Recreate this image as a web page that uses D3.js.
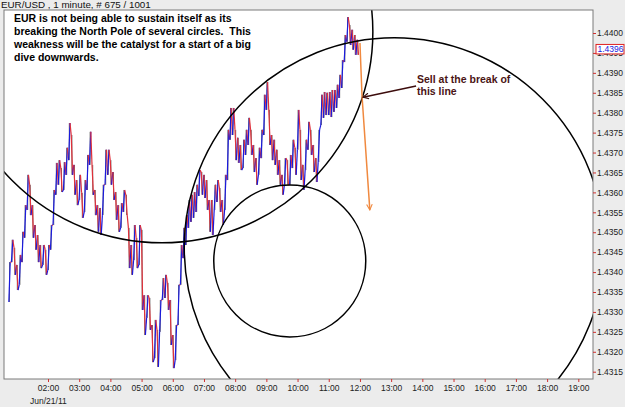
<!DOCTYPE html>
<html>
<head>
<meta charset="utf-8">
<script src="https://cdn.jsdelivr.net/npm/d3@7"></script>
<style>
  body { margin: 0; background: #ececec; }
  svg { display: block; font-family: "Liberation Sans", Arial, sans-serif; }
</style>
</head>
<body>
<svg id="chart" width="625" height="407"></svg>
<script>
// EUR/USD 1 minute, Jun/21/11 -- sampled every 5 minutes (high / low of each block)
const startTime = "00:46";
const stepMinutes = 5;
const highs = [
  1.43425, 1.43481, 1.43461, 1.43418, 1.43443, 1.43501, 1.43568, 1.43644, 1.43619, 1.43568,
  1.43518, 1.43493, 1.43468, 1.43468, 1.43456, 1.43468, 1.43518, 1.43606, 1.43674, 1.43681,
  1.43661, 1.43676, 1.43712, 1.43774, 1.43744, 1.43669, 1.43631, 1.43644, 1.43599, 1.43631,
  1.43694, 1.43752, 1.43669, 1.43606, 1.43568, 1.43561, 1.43619, 1.43707, 1.43707, 1.43681,
  1.43651, 1.43601, 1.43568, 1.43573, 1.43606, 1.43594, 1.43511, 1.43468, 1.43518, 1.43486,
  1.43518, 1.43506, 1.43342, 1.43342, 1.43335, 1.43267, 1.43280, 1.43255, 1.43330, 1.43385,
  1.43393, 1.43373, 1.43330, 1.43242, 1.43267, 1.43368, 1.43468, 1.43511, 1.43543, 1.43581,
  1.43594, 1.43601, 1.43619, 1.43656, 1.43651, 1.43644, 1.43631, 1.43581, 1.43581, 1.43619,
  1.43631, 1.43611, 1.43581, 1.43644, 1.43757, 1.43812, 1.43812, 1.43757, 1.43737, 1.43719,
  1.43732, 1.43757, 1.43787, 1.43757, 1.43719, 1.43686, 1.43712, 1.43757, 1.43845, 1.43877,
  1.43807, 1.43744, 1.43732, 1.43707, 1.43681, 1.43644, 1.43686, 1.43681, 1.43694, 1.43732,
  1.43712, 1.43807, 1.43757, 1.43669, 1.43732, 1.43777, 1.43757, 1.43719, 1.43686, 1.43757,
  1.43845, 1.43852, 1.43850, 1.43852, 1.43857, 1.43857, 1.43870, 1.43895, 1.43932, 1.43995,
  1.44040, 1.44020, 1.44008, 1.43995, 1.43983
];
const lows = [
  1.43325, 1.43425, 1.43393, 1.43355, 1.43368, 1.43425, 1.43486, 1.43556, 1.43543, 1.43486,
  1.43456, 1.43425, 1.43410, 1.43418, 1.43393, 1.43405, 1.43456, 1.43518, 1.43594, 1.43619,
  1.43601, 1.43606, 1.43644, 1.43681, 1.43644, 1.43594, 1.43568, 1.43581, 1.43536, 1.43551,
  1.43606, 1.43669, 1.43594, 1.43543, 1.43501, 1.43493, 1.43543, 1.43619, 1.43644, 1.43619,
  1.43581, 1.43531, 1.43501, 1.43511, 1.43551, 1.43543, 1.43410, 1.43393, 1.43430, 1.43410,
  1.43418, 1.43305, 1.43242, 1.43285, 1.43255, 1.43174, 1.43184, 1.43162, 1.43250, 1.43330,
  1.43335, 1.43305, 1.43217, 1.43159, 1.43179, 1.43267, 1.43368, 1.43435, 1.43468, 1.43511,
  1.43526, 1.43536, 1.43551, 1.43591, 1.43594, 1.43586, 1.43556, 1.43501, 1.43493, 1.43556,
  1.43576, 1.43551, 1.43518, 1.43556, 1.43631, 1.43732, 1.43744, 1.43681, 1.43674, 1.43656,
  1.43661, 1.43694, 1.43719, 1.43694, 1.43651, 1.43619, 1.43644, 1.43686, 1.43744, 1.43807,
  1.43719, 1.43681, 1.43669, 1.43644, 1.43619, 1.43594, 1.43619, 1.43619, 1.43619, 1.43661,
  1.43644, 1.43707, 1.43631, 1.43606, 1.43656, 1.43707, 1.43694, 1.43651, 1.43626, 1.43676,
  1.43769, 1.43787, 1.43794, 1.43794, 1.43789, 1.43802, 1.43812, 1.43837, 1.43862, 1.43927,
  1.43978, 1.43970, 1.43958, 1.43945, 1.43945
];
const hourTicks = ["02:00", "03:00", "04:00", "05:00", "06:00", "07:00", "08:00", "09:00", "10:00",
  "11:00", "12:00", "13:00", "14:00", "15:00", "16:00", "17:00", "18:00", "19:00"];
const priceTicks = [1.4315, 1.4320, 1.4325, 1.4330, 1.4335, 1.4340, 1.4345, 1.4350, 1.4355,
  1.4360, 1.4365, 1.4370, 1.4375, 1.4380, 1.4385, 1.4390, 1.4395, 1.4400];
const lastPrice = 1.4396;

// hand drawn annotations: [time, price, radius in px]
const circles = [["09:45", 1.43428, 76], ["05:39", 1.44003, 211], ["13:06", 1.43461, 210]];
const sellArrow = [["13:48", 1.43867], ["12:06", 1.43839]];
const dropArrow = [["12:00", 1.43975], ["12:04", 1.43842], ["12:19", 1.43556]];
const noteLines = ["EUR is not being able to sustain itself as its",
  "breaking the North Pole of several circles.  This",
  "weakness will be the catalyst for a start of a big",
  "dive downwards."];
const sellLines = ["Sell at the break of", "this line"];

const plot = { left: 4, right: 593, top: 10, bottom: 379 };

const t = s => {
  const [h, m] = s.split(":").map(Number);
  return new Date(Date.UTC(2011, 5, 21, h, m));
};

const x = d3.scaleUtc().domain([t("02:00"), t("19:00")]).range([48, 578.3]);
const y = d3.scaleLinear().domain([1.4315, 1.4400]).range([371.7, 33]);

const svg = d3.select("#chart");

svg.append("rect").attr("width", 625).attr("height", 407).attr("fill", "#ececec");
svg.append("rect")
  .attr("x", plot.left).attr("y", plot.top)
  .attr("width", plot.right - plot.left).attr("height", plot.bottom - plot.top)
  .attr("fill", "#fff");

svg.append("clipPath").attr("id", "clip")
  .append("rect")
  .attr("x", plot.left).attr("y", plot.top)
  .attr("width", plot.right - plot.left).attr("height", plot.bottom - plot.top);

// price bars
const bars = highs.map((h, i) => ({
  time: d3.utcMinute.offset(t(startTime), i * stepMinutes),
  high: h,
  low: lows[i]
}));
bars.forEach((d, i) => {
  const prev = bars[i - 1];
  d.up = !prev || (d.high + d.low) >= (prev.high + prev.low);
});

const pts = [];
bars.forEach(d => {
  const cx = x(d.time);
  if (d.up) {
    pts.push([cx - 0.7, y(d.low)], [cx + 0.7, y(d.high)]);
  } else {
    pts.push([cx - 0.7, y(d.high)], [cx + 0.7, y(d.low)]);
  }
});

const series = svg.append("g").attr("clip-path", "url(#clip)");

series.selectAll("line.hl")
  .data(bars)
  .enter().append("line")
  .attr("class", "hl")
  .attr("x1", d => x(d.time)).attr("x2", d => x(d.time))
  .attr("y1", d => y(d.high)).attr("y2", d => y(d.low))
  .attr("stroke", "#222")
  .attr("stroke-width", 0.9)
  .attr("opacity", 0.7);

series.selectAll("line.seg")
  .data(d3.pairs(pts))
  .enter().append("line")
  .attr("class", "seg")
  .attr("x1", d => d[0][0]).attr("y1", d => d[0][1])
  .attr("x2", d => d[1][0]).attr("y2", d => d[1][1])
  .attr("stroke", d => d[1][1] < d[0][1] ? "#1a1adc" : "#e0303a")
  .attr("stroke-width", 1.2);

// circles
const ann = svg.append("g").attr("clip-path", "url(#clip)");
ann.selectAll("circle")
  .data(circles)
  .enter().append("circle")
  .attr("cx", d => x(t(d[0])))
  .attr("cy", d => y(d[1]))
  .attr("r", d => d[2])
  .attr("fill", "none")
  .attr("stroke", "#000")
  .attr("stroke-width", 1.5);

// arrows
const defs = svg.append("defs");
[["headOrange", "#f0893f"], ["headBrown", "#3c0c0c"]].forEach(([id, c]) => {
  defs.append("marker").attr("id", id)
    .attr("viewBox", "0 0 10 10").attr("refX", 9).attr("refY", 5)
    .attr("markerWidth", 7).attr("markerHeight", 7).attr("markerUnits", "userSpaceOnUse")
    .attr("orient", "auto")
    .append("path").attr("d", "M1,1 L9,5 L1,9")
    .attr("fill", "none").attr("stroke", c).attr("stroke-width", 1.6);
});

const line = d3.line().x(d => x(t(d[0]))).y(d => y(d[1]));
ann.append("path").attr("d", line(dropArrow))
  .attr("fill", "none").attr("stroke", "#f0893f").attr("stroke-width", 1.5)
  .attr("marker-end", "url(#headOrange)");
ann.append("path").attr("d", line(sellArrow))
  .attr("fill", "none").attr("stroke", "#3c0c0c").attr("stroke-width", 1.5)
  .attr("marker-end", "url(#headBrown)");

// frame
svg.append("rect")
  .attr("x", plot.left).attr("y", plot.top)
  .attr("width", plot.right - plot.left).attr("height", plot.bottom - plot.top)
  .attr("fill", "none").attr("stroke", "#7a7a7a").attr("stroke-width", 1);

// axes
const yAxis = svg.append("g")
  .attr("transform", `translate(${plot.right},0)`)
  .call(d3.axisRight(y).tickValues(priceTicks).tickSize(3).tickPadding(1)
    .tickFormat(d3.format(".4f")));
const xAxis = svg.append("g")
  .attr("transform", `translate(0,${plot.bottom})`)
  .call(d3.axisBottom(x).tickValues(hourTicks.map(t)).tickSize(3).tickPadding(3)
    .tickFormat(d3.utcFormat("%H:%M")));
[yAxis, xAxis].forEach(g => {
  g.select(".domain").remove();
  g.selectAll(".tick line").attr("stroke", "#d03030");
  g.selectAll(".tick text").attr("fill", "#222")
    .style("font-family", "'Liberation Sans', Arial, sans-serif").style("font-size", "8.5px");
});

// last price marker
const lp = svg.append("g").attr("transform", `translate(${plot.right + 3},${y(lastPrice)})`);
lp.append("rect").attr("x", 0).attr("y", -4.5).attr("width", 28).attr("height", 9.5)
  .attr("fill", "#fff").attr("stroke", "#e02020").attr("stroke-width", 1);
lp.append("text").attr("x", 1.5).attr("y", 3).attr("fill", "#2020e0")
  .style("font-size", "8.5px").text(d3.format(".4f")(lastPrice));

svg.append("text").attr("x", 30).attr("y", 403.5).attr("fill", "#222")
  .style("font-size", "8.5px").text("Jun/21/11");

svg.append("text").attr("x", 1).attr("y", 8).attr("fill", "#111")
  .style("font-size", "9.8px").text("EUR/USD , 1 minute, # 675 / 1001");

// notes
svg.append("g").selectAll("text")
  .data(noteLines)
  .enter().append("text")
  .attr("x", 14).attr("y", (d, i) => 22 + i * 13)
  .attr("fill", "#000")
  .style("font-size", "10.5px").style("font-weight", "bold")
  .style("white-space", "pre")
  .text(d => d);

svg.append("g").selectAll("text")
  .data(sellLines)
  .enter().append("text")
  .attr("x", 417).attr("y", (d, i) => 83 + i * 12)
  .attr("fill", "#4a1414")
  .style("font-size", "10.5px").style("font-weight", "bold")
  .text(d => d);
</script>
</body>
</html>
